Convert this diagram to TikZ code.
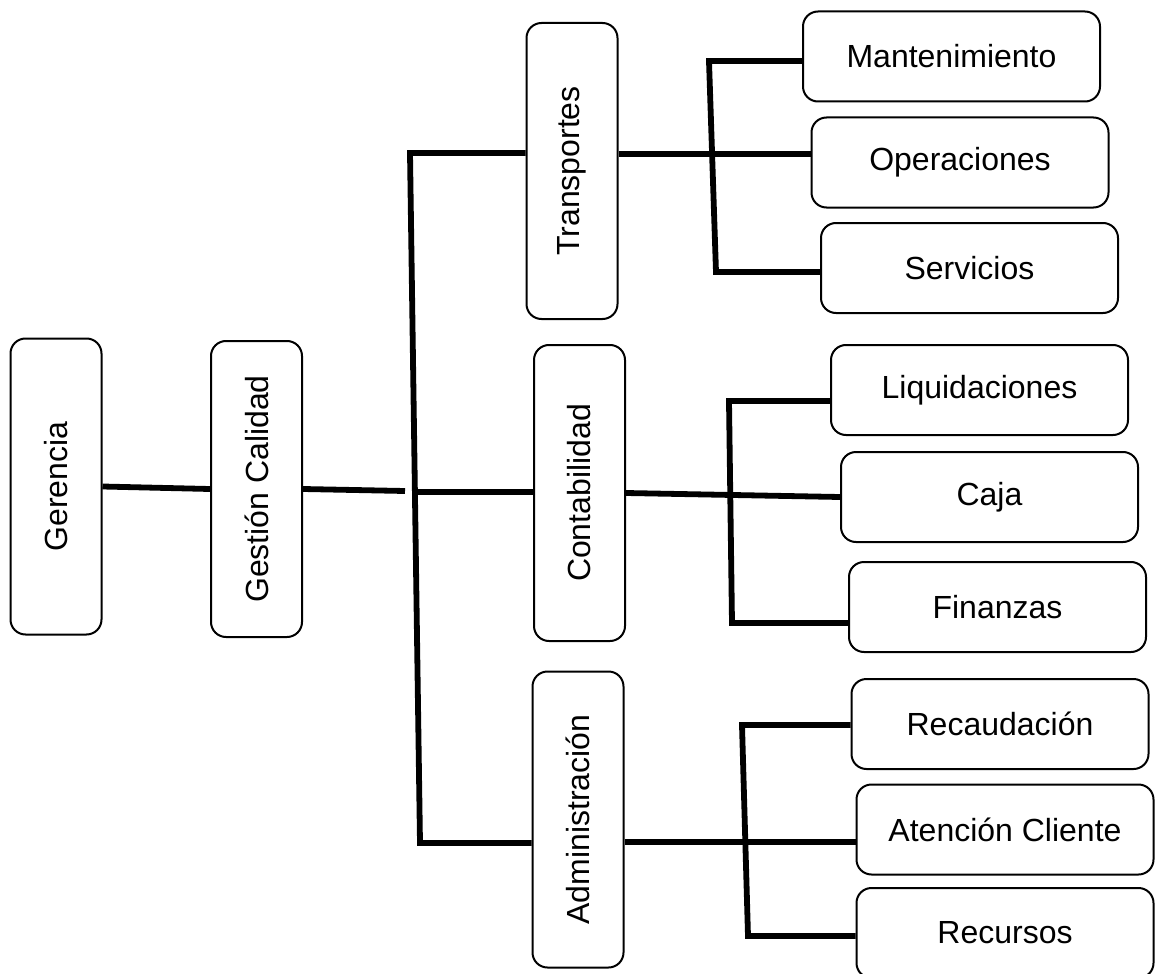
\documentclass[tikz,border=0pt]{standalone}
\usepackage{fontspec}
\setmainfont{Liberation Sans}
\usetikzlibrary{calc}

\begin{document}
\begin{tikzpicture}[x=0.5pt,y=-0.5pt,
    box/.style={draw,line width=1pt,rounded corners=7.5pt,inner sep=0pt,
        font=\fontsize{16pt}{19pt}\selectfont},
    hbox/.style={box,minimum width=148.5pt,minimum height=45pt},
    vbox/.style={box,minimum width=45.5pt,minimum height=148pt},
    link/.style={line width=2.9pt}]
    \useasboundingbox (0,0) rectangle (1157,974);

    \node[vbox] (ger) at (56,486.5) {\rotatebox{90}{Gerencia}};
    \node[vbox] (gcal) at (256.5,489) {\rotatebox{90}{Gestión Calidad}};

    \node[vbox] (trans) at (572,171) {\rotatebox{90}{Transportes}};
    \node[vbox] (conta) at (579.5,493) {\rotatebox{90}{Contabilidad}};
    \node[vbox] (admin) at (578,819.5) {\rotatebox{90}{Administración}};

    \node[hbox] (mant) at (951.5,56.5) {Mantenimiento};
    \node[hbox] (oper) at (960,162.5) {Operaciones};
    \node[hbox] (serv) at (969.5,268) {Servicios};

    \node[hbox] (liq) at (979.5,390) {Liquidaciones};
    \node[hbox] (caja) at (989.5,497) {Caja};
    \node[hbox] (fin) at (997.5,607) {Finanzas};

    \node[hbox] (recau) at (1000,724) {Recaudación};
    \node[hbox] (aten) at (1005,829.5) {Atención Cliente};
    \node[hbox] (recur) at (1005,933) {Recursos};

    \coordinate (gap) at (405,491);
    \coordinate (t1) at (410,153);
    \coordinate (tm) at (415,492);
    \coordinate (t2) at (420,843);
    \coordinate (s1) at (709,61);
    \coordinate (s2) at (716,272);
    \coordinate (r1) at (0,154);
    \coordinate (c1) at (729,401);
    \coordinate (c2) at (732,623);
    \coordinate (a1) at (742,725);
    \coordinate (a2) at (748,936);
    \coordinate (r3) at (0,842);

    \draw[link] (ger.east) -- (gcal.west);
    \draw[link] (gcal.east) -- (gap);
    \draw[link] (trans.west |- t1) -- (t1) -- (t2) -- (admin.west |- t2);
    \draw[link] (tm) -- (conta.west |- tm);

    \draw[link] (trans.east |- r1) -- (oper.west |- r1);
    \draw[link] (mant.west |- s1) -- (s1) -- (s2) -- (serv.west |- s2);

    \draw[link] (conta.east) -- (caja.west);
    \draw[link] (liq.west |- c1) -- (c1) -- (c2) -- (fin.west |- c2);

    \draw[link] (admin.east |- r3) -- (aten.west |- r3);
    \draw[link] (recau.west |- a1) -- (a1) -- (a2) -- (recur.west |- a2);
\end{tikzpicture}
\end{document}
